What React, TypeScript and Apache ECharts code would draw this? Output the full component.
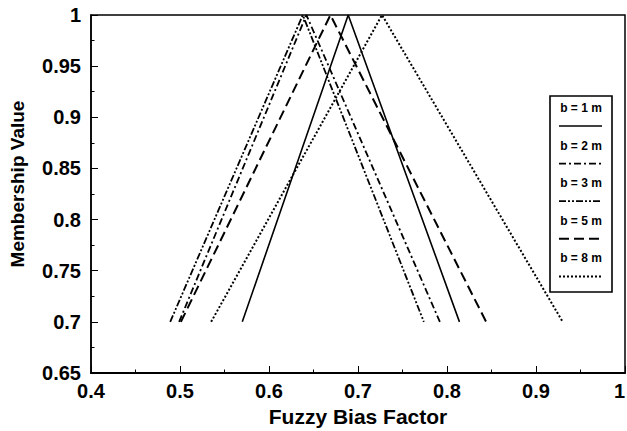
import React, { useEffect, useRef } from "react";
import * as echarts from "echarts";

const seriesNames = ["b = 1 m", "b = 2 m", "b = 3 m", "b = 5 m", "b = 8 m"];
const startX = [0.570, 0.499, 0.489, 0.501, 0.535];
const peakX = [0.689, 0.642, 0.638, 0.669, 0.727];
const endX = [0.814, 0.792, 0.774, 0.844, 0.930];
const yValues = [0.7, 1, 0.7];

const dashes: (number[] | "solid")[] = [
  "solid",
  [7, 3, 2, 3],
  [7, 2, 2, 2, 2, 2],
  [10, 5],
  [2, 2],
];
const widths = [1.6, 1.8, 1.8, 2, 2];

const FONT = "Liberation Sans";

const fmt = (v: number) => String(parseFloat(Number(v).toFixed(2)));

export default function App() {
  const ref = useRef<HTMLDivElement>(null);
  useEffect(() => {
    if (!ref.current) return;
    const chart = echarts.init(ref.current, undefined, { renderer: "svg" });

    const series = seriesNames.map((name, i) => ({
      name,
      type: "line",
      showSymbol: false,
      symbol: "none",
      data: [
        [startX[i], yValues[0]],
        [peakX[i], yValues[1]],
        [endX[i], yValues[2]],
      ],
      lineStyle: { color: "#000", width: widths[i], type: dashes[i] },
      z: 3,
    }));

    const boxX = 550;
    const boxY = 96;
    const boxW = 62;
    const step = 37.6;
    const legendEls: any[] = [
      {
        type: "rect",
        shape: { x: boxX, y: boxY, width: boxW, height: 196 },
        style: { fill: "#fff", stroke: "#000", lineWidth: 1.6 },
        z: 10,
      },
    ];
    seriesNames.forEach((name, i) => {
      const ty = 108 + i * step;
      legendEls.push({
        type: "text",
        x: boxX + boxW / 2,
        y: ty,
        style: {
          text: name,
          align: "center",
          verticalAlign: "middle",
          fontFamily: FONT,
          fontWeight: "bold",
          fontSize: 12,
          fill: "#000",
        },
        z: 11,
      });
      legendEls.push({
        type: "line",
        shape: { x1: boxX + 9, y1: ty + 18, x2: boxX + boxW - 10, y2: ty + 18 },
        style: {
          stroke: "#000",
          lineWidth: widths[i],
          lineDash: dashes[i] === "solid" ? null : dashes[i],
        },
        z: 11,
      });
    });
    legendEls.push({
      type: "text",
      x: 17,
      y: 184,
      rotation: Math.PI / 2,
      style: {
        text: "Membership Value",
        align: "center",
        verticalAlign: "middle",
        fontFamily: FONT,
        fontWeight: "bold",
        fontSize: 19,
        fill: "#000",
      },
      z: 11,
    });

    const axisCommon = {
      axisTick: { show: true, inside: true, length: 7, lineStyle: { color: "#000", width: 1 } },
      minorTick: { show: true, splitNumber: 2, length: 3.5, lineStyle: { color: "#000", width: 1 } },
      splitLine: { show: false },
    };

    const labelStyle = {
      color: "#000",
      fontSize: 20,
      fontWeight: "bold",
      fontFamily: FONT,
      showMinLabel: true,
      showMaxLabel: true,
      hideOverlap: false,
      formatter: fmt,
    };

    chart.setOption({
      animation: false,
      grid: {
        left: 91,
        right: 2,
        top: 15,
        bottom: 58,
        show: true,
        borderColor: "#000",
        borderWidth: 1.5,
        backgroundColor: "transparent",
        containLabel: false,
        outerBoundsMode: "none",
      },
      xAxis: {
        type: "value",
        min: 0.4,
        max: 1,
        interval: 0.1,
        axisLine: { show: true, onZero: false, lineStyle: { color: "#000", width: 2 } },
        ...axisCommon,
        axisLabel: { ...labelStyle, margin: 8, alignMaxLabel: "right" },
        name: "Fuzzy Bias Factor",
        nameLocation: "middle",
        nameGap: 30,
        nameTextStyle: { color: "#000", fontSize: 21, fontWeight: "bold", fontFamily: FONT },
      },
      yAxis: {
        type: "value",
        min: 0.65,
        max: 1,
        interval: 0.05,
        axisLine: { show: true, onZero: false, lineStyle: { color: "#000", width: 1.5 } },
        ...axisCommon,
        axisLabel: { ...labelStyle, margin: 10 },
      },
      series,
      graphic: legendEls,
    });

    return () => chart.dispose();
  }, []);

  return (
    <div
      ref={ref}
      style={{ position: "fixed", left: 0, top: 0, width: 627, height: 431, background: "#fff" }}
    />
  );
}
